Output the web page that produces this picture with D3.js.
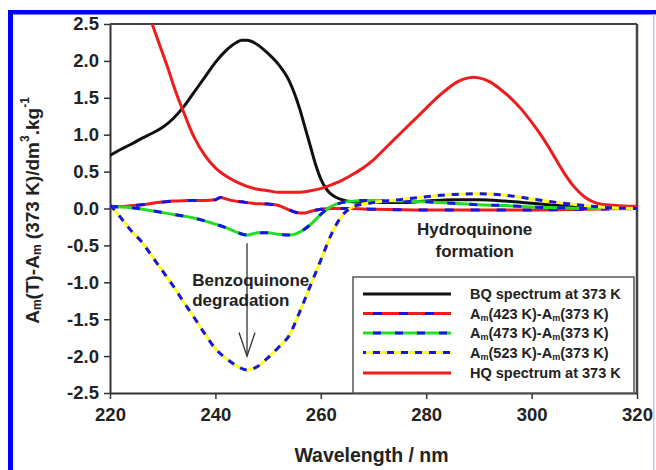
<!DOCTYPE html>
<html>
<head>
<meta charset="utf-8">
<script src="https://cdn.jsdelivr.net/npm/d3@7"></script>
<style>
  body { margin: 0; background: #fff; }
  svg { display: block; font-family: "Liberation Sans", Arial, sans-serif; font-weight: bold; }
</style>
</head>
<body>
<script>
// BQ spectrum at 373 K
const bqWl  = [220,222,224,226,228,230,232,234,236,238,240,242,244,245,246,248,250,252,254,256,257,258,259,260,261,262,264,266,268,270,275,280,285,290,295,300,305,310,315,320]
const bqVal = [0.72,0.8,0.87,0.95,1.02,1.1,1.22,1.38,1.58,1.78,1.98,2.14,2.25,2.28,2.28,2.22,2.1,1.95,1.73,1.35,1.1,0.85,0.6,0.4,0.27,0.19,0.12,0.09,0.08,0.08,0.08,0.1,0.12,0.12,0.1,0.07,0.04,0.02,0.01,0.0]

// HQ spectrum at 373 K
const hqWl  = [226,227,228,229,230,231,232,233,234,235,236,238,240,242,244,246,248,250,252,254,256,258,260,262,264,266,268,270,272,274,276,278,280,282,284,286,288,289,290,292,294,296,298,300,302,304,306,308,310,312,314,316,318,320]
const hqVal = [2.95,2.7,2.5,2.3,2.1,1.9,1.68,1.48,1.3,1.12,0.96,0.72,0.55,0.44,0.36,0.3,0.26,0.24,0.22,0.22,0.22,0.24,0.27,0.32,0.38,0.46,0.55,0.66,0.8,0.94,1.08,1.22,1.36,1.5,1.62,1.72,1.77,1.78,1.77,1.72,1.62,1.5,1.35,1.17,0.97,0.74,0.5,0.3,0.16,0.08,0.05,0.04,0.03,0.03]

// Am(423 K)-Am(373 K)
const d423Wl  = [220,223,226,229,232,235,238,240,241,242,243,245,247,250,252,254,256,257,258,260,262,265,270,280,290,300,310,320]
const d423Val = [0.02,0.03,0.05,0.08,0.1,0.11,0.11,0.12,0.15,0.13,0.11,0.09,0.07,0.06,0.04,-0.02,-0.06,-0.06,-0.04,-0.01,0.0,0.0,-0.01,-0.02,-0.02,-0.02,-0.01,0.0]

// Am(473 K)-Am(373 K)
const d473Wl  = [220,224,228,232,236,239,242,244,246,248,250,252,254,255,256,258,260,262,264,266,268,270,275,280,285,290,295,300,305,310,315,320]
const d473Val = [0.03,0.01,-0.03,-0.08,-0.13,-0.19,-0.26,-0.32,-0.36,-0.33,-0.33,-0.35,-0.36,-0.35,-0.32,-0.22,-0.08,0.03,0.08,0.1,0.11,0.11,0.1,0.09,0.07,0.05,0.04,0.02,0.01,0.0,0.0,0.0]

// Am(523 K)-Am(373 K)
const d523Wl  = [220,222,224,226,228,230,232,234,236,238,240,242,244,246,248,250,252,254,256,258,260,262,264,266,268,270,275,280,285,290,295,300,305,310,315,320]
const d523Val = [0.05,-0.12,-0.3,-0.45,-0.65,-0.85,-1.05,-1.27,-1.48,-1.7,-1.9,-2.03,-2.13,-2.19,-2.14,-2.02,-1.88,-1.72,-1.4,-1.05,-0.7,-0.35,-0.1,0.02,0.06,0.08,0.12,0.16,0.19,0.2,0.18,0.13,0.08,0.04,0.01,0.0]

const xTicks = [220,240,260,280,300,320]
const yTicks = [2.5,2.0,1.5,1.0,0.5,0.0,-0.5,-1.0,-1.5,-2.0,-2.5]

const width = 656, height = 470
const plot = { left: 110, right: 637, top: 24, bottom: 393 }

const svg = d3.select("body").append("svg")
    .attr("width", width)
    .attr("height", height)

// blue frame around the figure
svg.append("rect").attr("x", 8).attr("y", 10).attr("width", 5).attr("height", height - 10).attr("fill", "#0000ff")
svg.append("rect").attr("x", 8).attr("y", 10).attr("width", width - 8).attr("height", 4.5).attr("fill", "#0000ff")
svg.append("rect").attr("x", 653).attr("y", 14).attr("width", 1.5).attr("height", height - 14).attr("fill", "#c9c6f2")

const x = d3.scaleLinear().domain([220, 320]).range([plot.left, plot.right])
const y = d3.scaleLinear().domain([-2.5, 2.5]).range([plot.bottom, plot.top])

svg.append("clipPath").attr("id", "clip")
    .append("rect")
    .attr("x", plot.left).attr("y", plot.top)
    .attr("width", plot.right - plot.left).attr("height", plot.bottom - plot.top)

// axes (plain hyphen for negatives, like the original)
const xAxis = svg.append("g")
    .attr("transform", `translate(0,${plot.bottom})`)
    .call(d3.axisBottom(x).tickValues(xTicks).tickSize(6).tickSizeOuter(0).tickFormat(d => String(d)))
const yAxis = svg.append("g")
    .attr("transform", `translate(${plot.left},0)`)
    .call(d3.axisLeft(y).tickValues(yTicks).tickSize(6).tickSizeOuter(0).tickFormat(d => d.toFixed(1)))

for (const ax of [xAxis, yAxis]) {
    ax.select(".domain").attr("stroke", "#333").attr("stroke-width", 2)
    ax.selectAll(".tick line").attr("stroke", "#333").attr("stroke-width", 1.5)
    ax.selectAll(".tick text")
        .attr("fill", "#222")
        .style("font-size", "18.5px")
        .style("font-family", "'Liberation Sans', Arial, sans-serif")
        .style("font-weight", "bold")
}
xAxis.selectAll(".tick text").attr("y", 15)
yAxis.selectAll(".tick text").attr("x", -11)

// top and right frame
svg.append("line").attr("x1", plot.left).attr("x2", plot.right).attr("y1", plot.top).attr("y2", plot.top)
    .attr("stroke", "#444").attr("stroke-width", 2)
svg.append("line").attr("x1", plot.right).attr("x2", plot.right).attr("y1", plot.top).attr("y2", plot.bottom)
    .attr("stroke", "#444").attr("stroke-width", 2.5)

const line = d3.line()
    .x(d => x(d[0]))
    .y(d => y(d[1]))
    .curve(d3.curveMonotoneX)

const curves = svg.append("g").attr("clip-path", "url(#clip)")

function drawCurve(wl, val, color, dash) {
    const pts = d3.zip(wl, val)
    curves.append("path")
        .attr("d", line(pts))
        .attr("fill", "none")
        .attr("stroke", color)
        .attr("stroke-width", 3)
    if (dash) {
        curves.append("path")
            .attr("d", line(pts))
            .attr("fill", "none")
            .attr("stroke", "#1515e6")
            .attr("stroke-width", 3)
            .attr("stroke-dasharray", dash)
    }
}

drawCurve(bqWl, bqVal, "#111", null)
drawCurve(hqWl, hqVal, "#ee1c1c", null)
drawCurve(d423Wl, d423Val, "#ee1c1c", "9,17")
drawCurve(d473Wl, d473Val, "#22dd22", "8,14")
drawCurve(d523Wl, d523Val, "#ffff22", "7,7")

// arrow: benzoquinone degradation
const ax0 = x(246)
svg.append("line").attr("x1", ax0).attr("x2", ax0).attr("y1", y(-0.47)).attr("y2", y(-2.0))
    .attr("stroke", "#333").attr("stroke-width", 1.3)
svg.append("path")
    .attr("d", `M ${ax0 - 8} ${y(-1.68)} L ${ax0} ${y(-2.0)} L ${ax0 + 8} ${y(-1.68)}`)
    .attr("fill", "none").attr("stroke", "#333").attr("stroke-width", 1.3)

const annot = svg.append("g").attr("fill", "#222").style("font-size", "17px")
annot.append("text").attr("x", x(235.6)).attr("y", y(-0.97)).attr("dominant-baseline", "central").text("Benzoquinone")
annot.append("text").attr("x", x(235.6)).attr("y", y(-1.24)).attr("dominant-baseline", "central").text("degradation")
annot.append("text").attr("x", x(289.2)).attr("y", y(-0.29)).attr("text-anchor", "middle").attr("dominant-baseline", "central").text("Hydroquinone")
annot.append("text").attr("x", x(289.2)).attr("y", y(-0.58)).attr("text-anchor", "middle").attr("dominant-baseline", "central").text("formation")

// axis titles
svg.append("text")
    .attr("x", (plot.left + plot.right) / 2 - 2)
    .attr("y", 455)
    .attr("text-anchor", "middle")
    .attr("dominant-baseline", "central")
    .attr("fill", "#222")
    .style("font-size", "19.5px")
    .text("Wavelength / nm")

const yTitle = svg.append("text")
    .attr("transform", `translate(32,${(plot.top + plot.bottom) / 2 + 2}) rotate(-90)`)
    .attr("text-anchor", "middle")
    .attr("dominant-baseline", "central")
    .attr("fill", "#222")
    .style("font-size", "19px")
yTitle.append("tspan").text("A")
yTitle.append("tspan").attr("dy", 5).style("font-size", "12px").text("m")
yTitle.append("tspan").attr("dy", -5).text("(T)-A")
yTitle.append("tspan").attr("dy", 5).style("font-size", "12px").text("m")
yTitle.append("tspan").attr("dy", -5).text(" (373 K)/dm")
yTitle.append("tspan").attr("dy", -7).style("font-size", "12px").text("3")
yTitle.append("tspan").attr("dy", 7).text(".kg")
yTitle.append("tspan").attr("dy", -7).style("font-size", "12px").text("-1")

// legend
const legendNames = ["BQ spectrum at 373 K", "423", "473", "523", "HQ spectrum at 373 K"]
const legendColors = ["#111", "#ee1c1c", "#22dd22", "#ffff22", "#ee1c1c"]
const legendDash = [null, "9,17", "8,14", "7,7", null]
const legendRows = [294, 313.5, 333, 352.5, 373]

svg.append("rect")
    .attr("x", 353).attr("y", 277)
    .attr("width", 281).attr("height", plot.bottom - 277)
    .attr("fill", "#fff").attr("stroke", "#555").attr("stroke-width", 1.5)

const legend = svg.append("g").style("font-size", "14.5px")
legendNames.forEach((name, i) => {
    const ly = legendRows[i]
    legend.append("line").attr("x1", 363).attr("x2", 451).attr("y1", ly).attr("y2", ly)
        .attr("stroke", legendColors[i]).attr("stroke-width", 3)
    if (legendDash[i]) {
        legend.append("line").attr("x1", 363).attr("x2", 451).attr("y1", ly).attr("y2", ly)
            .attr("stroke", "#1515e6").attr("stroke-width", 3)
            .attr("stroke-dasharray", legendDash[i]).attr("stroke-dashoffset", -10)
    }
    const t = legend.append("text").attr("x", 470).attr("y", ly).attr("dominant-baseline", "central").attr("fill", "#222")
    if (legendDash[i]) {
        t.append("tspan").text("A")
        t.append("tspan").attr("dy", 4).style("font-size", "9px").text("m")
        t.append("tspan").attr("dy", -4).text(`(${name} K)-A`)
        t.append("tspan").attr("dy", 4).style("font-size", "9px").text("m")
        t.append("tspan").attr("dy", -4).text("(373 K)")
    } else {
        t.text(name)
    }
})
</script>
</body>
</html>
